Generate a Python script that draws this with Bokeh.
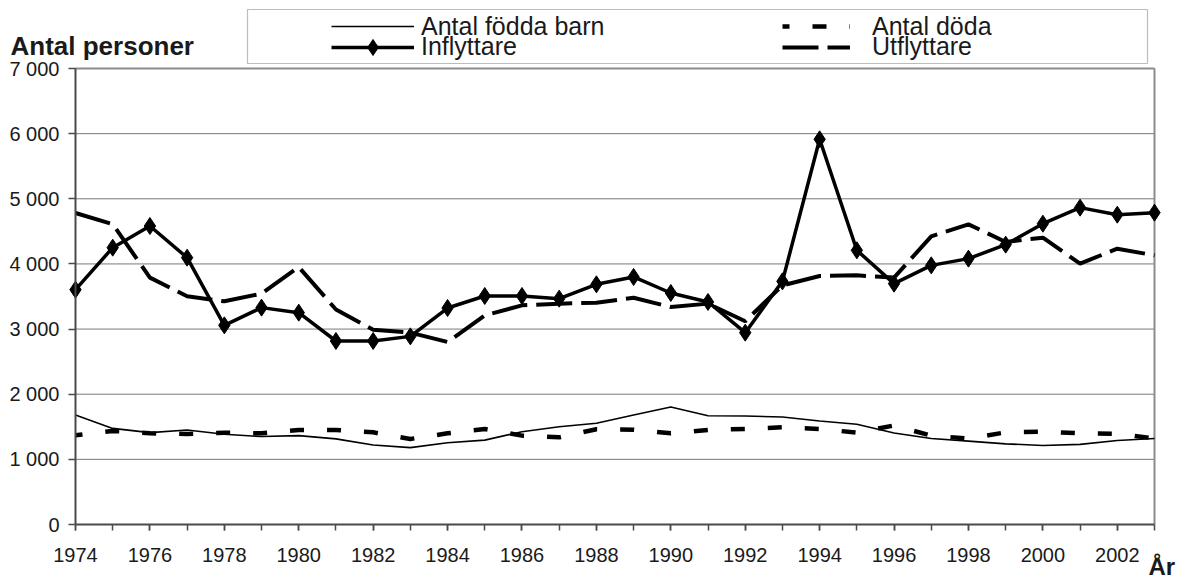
import numpy as np
from bokeh.plotting import figure
from bokeh.models import (Range1d, FixedTicker, Legend, LegendItem, Label,
                          BoxAnnotation, ColumnDataSource)
from bokeh.embed import file_html
from bokeh.resources import INLINE

# ---------------- data ----------------
years = list(range(1974, 2004))
fodda = [1680, 1475, 1410, 1450, 1385, 1350, 1365, 1315, 1220, 1180,
         1255, 1295, 1425, 1500, 1555, 1680, 1805, 1670, 1665, 1650,
         1590, 1540, 1405, 1320, 1280, 1238, 1212, 1230, 1290, 1320]
doda = [1370, 1436, 1400, 1390, 1410, 1400, 1451, 1451, 1415, 1313,
        1400, 1467, 1364, 1338, 1462, 1455, 1400, 1451, 1467, 1492,
        1467, 1410, 1520, 1364, 1320, 1415, 1426, 1400, 1390, 1323]
inflyttare = [3605, 4250, 4582, 4096, 3057, 3329, 3252, 2817, 2817, 2888,
              3323, 3508, 3508, 3467, 3687, 3800, 3554, 3416, 2945, 3733,
              5913, 4209, 3697, 3978, 4081, 4296, 4618, 4864, 4756, 4787]
utflyttare = [4782, 4610, 3790, 3503, 3426, 3544, 3953, 3300, 2991, 2945,
              2801, 3211, 3364, 3390, 3405, 3480, 3339, 3390, 3120, 3671,
              3815, 3825, 3790, 4424, 4608, 4337, 4403, 4004, 4234, 4132]
y_ticks = [0, 1000, 2000, 3000, 4000, 5000, 6000, 7000]
x_label_years = list(range(1974, 2003, 2))
series_names = ["Antal födda barn", "Antal döda", "Inflyttare", "Utflyttare"]
y_title = "Antal personer"
x_title = "År"

# ---------------- layout (pixels) ----------------
W, H = 1185, 580
PX_L, PX_R, PX_T, PX_B = 75, 1154, 68, 524   # plot area on the page
X0, X1 = years[0], years[-1]
Y0, Y1 = y_ticks[0], y_ticks[-1]
xs = (X1 - X0) / (PX_R - PX_L)
ys = (Y1 - Y0) / (PX_B - PX_T)


def dx(px):
    return X0 + (px - PX_L) * xs


def dy(py):
    return Y0 + (PX_B - py) * ys


FONT = "Liberation Sans"
INK = "#1a1a1a"
AXIS = "#4a4a4a"
GRID = "#7a7a7a"

p = figure(width=W, height=H, output_backend="svg", toolbar_location=None,
           x_range=Range1d(dx(0), dx(W)), y_range=Range1d(dy(H), dy(0)),
           min_border=0)
p.background_fill_color = "white"
p.border_fill_color = "white"
p.outline_line_color = None

# horizontal grid lines and plot-area border (from the tick values)
grid_y = y_ticks[1:]
p.segment(x0=[X0] * len(grid_y), x1=[X1] * len(grid_y), y0=grid_y, y1=grid_y,
          line_color=GRID, line_width=1, level="underlay")
p.segment(x0=[X0], x1=[X1], y0=[Y1], y1=[Y1], line_color="#8c8c8c",
          line_width=2, level="underlay")
p.segment(x0=[X1], x1=[X1], y0=[Y0], y1=[Y1], line_color="#8c8c8c",
          line_width=2, level="underlay")

src = ColumnDataSource(dict(x=years, f=fodda, d=doda, i=inflyttare, u=utflyttare))

r_f = p.line("x", "f", source=src, line_color="black", line_width=1.6)
r_d = p.line("x", "d", source=src, line_color="black", line_width=4.5,
             line_dash="14 23", line_dash_offset=7)
r_u = p.line("x", "u", source=src, line_color="black", line_width=4,
             line_dash="36 9")
r_i = p.line("x", "i", source=src, line_color="black", line_width=3.5)
r_im = p.scatter("x", "i", source=src, marker="diamond", size=17,
                 fill_color="black", line_color="black")

# axes
p.xgrid.visible = False
p.ygrid.visible = False
xa, ya = p.xaxis[0], p.yaxis[0]
xa.fixed_location = Y0
xa.bounds = (X0, X1)
ya.fixed_location = X0
ya.bounds = (Y0, Y1)
xa.ticker = FixedTicker(ticks=x_label_years, minor_ticks=years)
ya.ticker = FixedTicker(ticks=y_ticks)
ya.major_label_overrides = {v: f"{v:,}".replace(",", " ") for v in y_ticks}
for ax in (xa, ya):
    ax.axis_line_color = AXIS
    ax.axis_line_width = 2
    ax.major_tick_line_color = AXIS
    ax.major_tick_line_width = 1.5
    ax.major_tick_in = 0
    ax.major_label_text_font = FONT
    ax.major_label_text_font_size = "20px"
    ax.major_label_text_color = INK
xa.major_tick_out = 6
xa.minor_tick_out = 6
xa.minor_tick_in = 0
xa.minor_tick_line_color = AXIS
xa.minor_tick_line_width = 1.5
xa.major_label_standoff = 17
ya.major_tick_out = 7
ya.minor_tick_line_color = None
ya.major_label_standoff = 9

# legend border box
p.add_layout(BoxAnnotation(left=dx(247), right=dx(1147), top=dy(9), bottom=dy(63),
                           fill_alpha=0, line_color="#222222", line_width=1.2,
                           level="overlay"))

ITEM_H = 40


def make_legend(label, renderers, px_left, py_center, glyph_w, standoff):
    lg = Legend(items=[LegendItem(label=label, renderers=renderers)],
                location=(px_left, H - py_center - ITEM_H / 2), padding=0,
                spacing=0, margin=0,
                glyph_width=glyph_w, glyph_height=ITEM_H, label_height=ITEM_H,
                label_standoff=standoff, border_line_alpha=0,
                background_fill_alpha=0, label_text_font=FONT,
                label_text_font_size="25px", label_text_color=INK)
    p.add_layout(lg, "center")


make_legend(series_names[0], [r_f], 331, 26, 83, 7)
make_legend(series_names[2], [r_i, r_im], 331, 46.5, 83, 7)
make_legend(series_names[1], [r_d], 782, 26, 68, 22)
make_legend(series_names[3], [r_u], 782, 46.5, 68, 22)

# titles
p.add_layout(Label(x=dx(10), y=dy(45), text=y_title, text_font=FONT,
                   text_font_size="26px", text_font_style="bold",
                   text_color=INK, text_baseline="alphabetic"))
p.add_layout(Label(x=dx(1148), y=dy(566), text=x_title, text_font=FONT,
                   text_font_size="24px", text_font_style="bold",
                   text_color=INK, text_baseline="alphabetic"))

open("out.html", "w").write(file_html(p, INLINE))
